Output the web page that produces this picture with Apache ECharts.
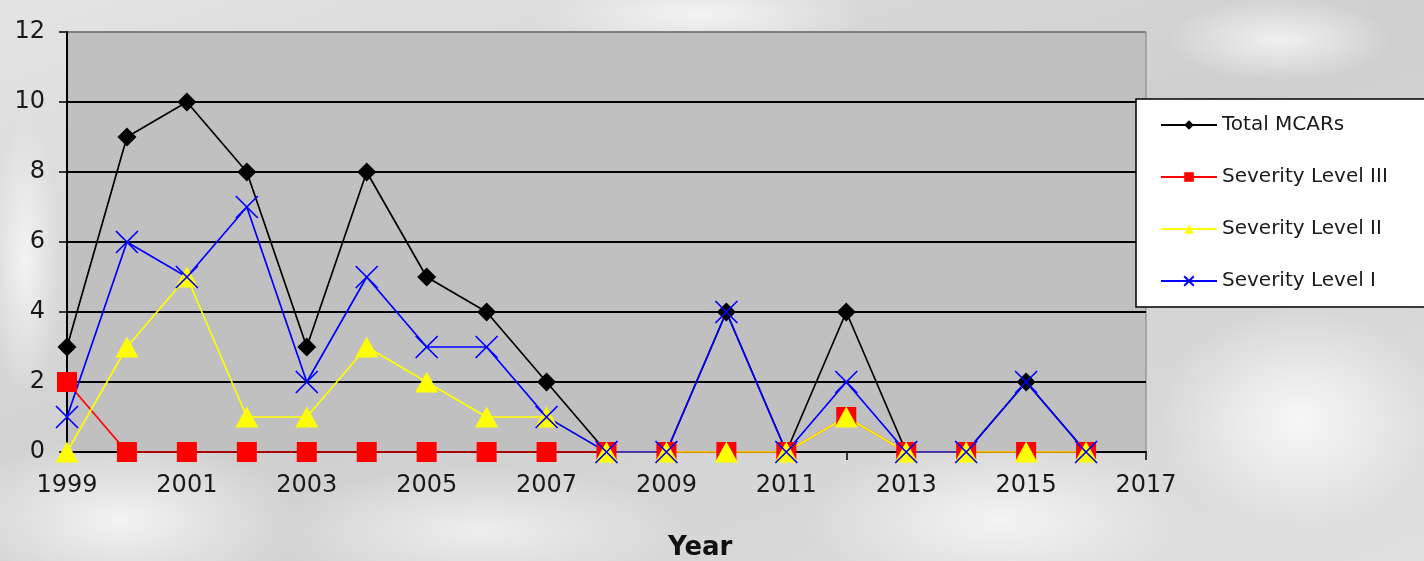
<!DOCTYPE html>
<html>
<head>
<meta charset="utf-8">
<script src="https://cdn.jsdelivr.net/npm/echarts@6/dist/echarts.min.js"></script>
<style>
  html, body { margin: 0; padding: 0; }
  body {
    width: 1424px; height: 561px; overflow: hidden;
    background-color: #d9d9d9;
    background-image:
      radial-gradient(ellipse 260px 120px at 120px 520px, rgba(255,255,255,0.75), rgba(255,255,255,0) 70%),
      radial-gradient(ellipse 300px 90px at 480px 530px, rgba(255,255,255,0.6), rgba(255,255,255,0) 70%),
      radial-gradient(ellipse 280px 110px at 1000px 520px, rgba(255,255,255,0.7), rgba(255,255,255,0) 70%),
      radial-gradient(ellipse 200px 160px at 1300px 420px, rgba(255,255,255,0.8), rgba(255,255,255,0) 70%),
      radial-gradient(ellipse 240px 60px at 700px 14px, rgba(255,255,255,0.7), rgba(255,255,255,0) 70%),
      radial-gradient(ellipse 160px 60px at 1280px 40px, rgba(255,255,255,0.7), rgba(255,255,255,0) 70%),
      radial-gradient(ellipse 50px 200px at 25px 260px, rgba(255,255,255,0.7), rgba(255,255,255,0) 70%),
      linear-gradient(160deg, #e4e4e4, #cfcfcf 50%, #e0e0e0);
  }
  #chart { width: 1424px; height: 561px; }
</style>
</head>
<body>
<div id="chart"></div>
<script>
// Mishap (MCAR) counts per year, by severity
const years = [1999, 2000, 2001, 2002, 2003, 2004, 2005, 2006, 2007, 2008,
               2009, 2010, 2011, 2012, 2013, 2014, 2015, 2016];
const totalMCARs = [3, 9, 10, 8, 3, 8, 5, 4, 2, 0, 0, 4, 0, 4, 0, 0, 2, 0];
const severityIII = [2, 0, 0, 0, 0, 0, 0, 0, 0, 0, 0, 0, 0, 1, 0, 0, 0, 0];
const severityII  = [0, 3, 5, 1, 1, 3, 2, 1, 1, 0, 0, 0, 0, 1, 0, 0, 0, 0];
const severityI   = [1, 6, 5, 7, 2, 5, 3, 3, 1, 0, 0, 4, 0, 2, 0, 0, 2, 0];
const seriesNames = ['Total MCARs', 'Severity Level III', 'Severity Level II', 'Severity Level I'];

const pairs = arr => years.map((y, i) => [y, arr[i]]);
const FONT = 'DejaVu Sans';

const chart = echarts.init(document.getElementById('chart'), null, { renderer: 'canvas' });

function lineSeries(name, data, color, symbol, size, extraItem) {
  return {
    name, type: 'line', data: pairs(data),
    symbol, symbolSize: size, showSymbol: true,
    lineStyle: { color, width: 1.7 },
    itemStyle: Object.assign({ color }, extraItem || {}),
    emphasis: { disabled: true },
    animation: false
  };
}

chart.setOption({
  animation: false,
  grid: {
    left: 67, right: 278, top: 32, bottom: 109,
    show: true, backgroundColor: '#c0c0c0', borderColor: '#808080', borderWidth: 1
  },
  legend: {
    orient: 'vertical',
    left: 1136, top: 99,
    padding: [16, 60, 16, 24],
    backgroundColor: '#ffffff',
    borderColor: '#000000', borderWidth: 1.5,
    itemWidth: 56, itemHeight: 12, itemGap: 32,
    textStyle: { fontFamily: FONT, fontSize: 20, color: '#1a1a1a', lineHeight: 20 },
    data: seriesNames
  },
  xAxis: {
    type: 'value', min: 1999, max: 2017, interval: 1,
    axisLine: { show: true, lineStyle: { color: '#000', width: 2 } },
    axisTick: { show: true, inside: false, length: 8, lineStyle: { color: '#000', width: 1.5 } },
    axisLabel: {
      margin: 22, fontFamily: FONT, fontSize: 24, color: '#1a1a1a',
      formatter: v => (v % 2 === 1 ? String(v) : '')
    },
    splitLine: { show: false }
  },
  yAxis: {
    type: 'value', min: 0, max: 12, interval: 2,
    axisLine: { show: true, lineStyle: { color: '#000', width: 2 } },
    axisTick: { show: true, inside: false, length: 8, lineStyle: { color: '#000', width: 1.5 } },
    axisLabel: { margin: 22, fontFamily: FONT, fontSize: 24, color: '#1a1a1a' },
    splitLine: {
      show: true,
      lineStyle: { color: ['#000', '#000', '#000', '#000', '#000', '#000', '#808080'], width: 2 }
    }
  },
  graphic: [{
    type: 'text', left: 668, top: 535,
    style: { text: 'Year', fontFamily: FONT, fontWeight: 'bold', fontSize: 26, fill: '#111' }
  }],
  series: [
    lineSeries(seriesNames[0], totalMCARs, '#000000', 'diamond', 19),
    lineSeries(seriesNames[1], severityIII, '#ff0000', 'rect', 20),
    lineSeries(seriesNames[2], severityII, '#ffff00', 'triangle', [23, 21]),
    lineSeries(seriesNames[3], severityI, '#0000ff', 'path://M0,0L10,10M10,0L0,10', 22,
      { color: 'none', borderColor: '#0000ff', borderWidth: 1.7 })
  ]
});
</script>
</body>
</html>
